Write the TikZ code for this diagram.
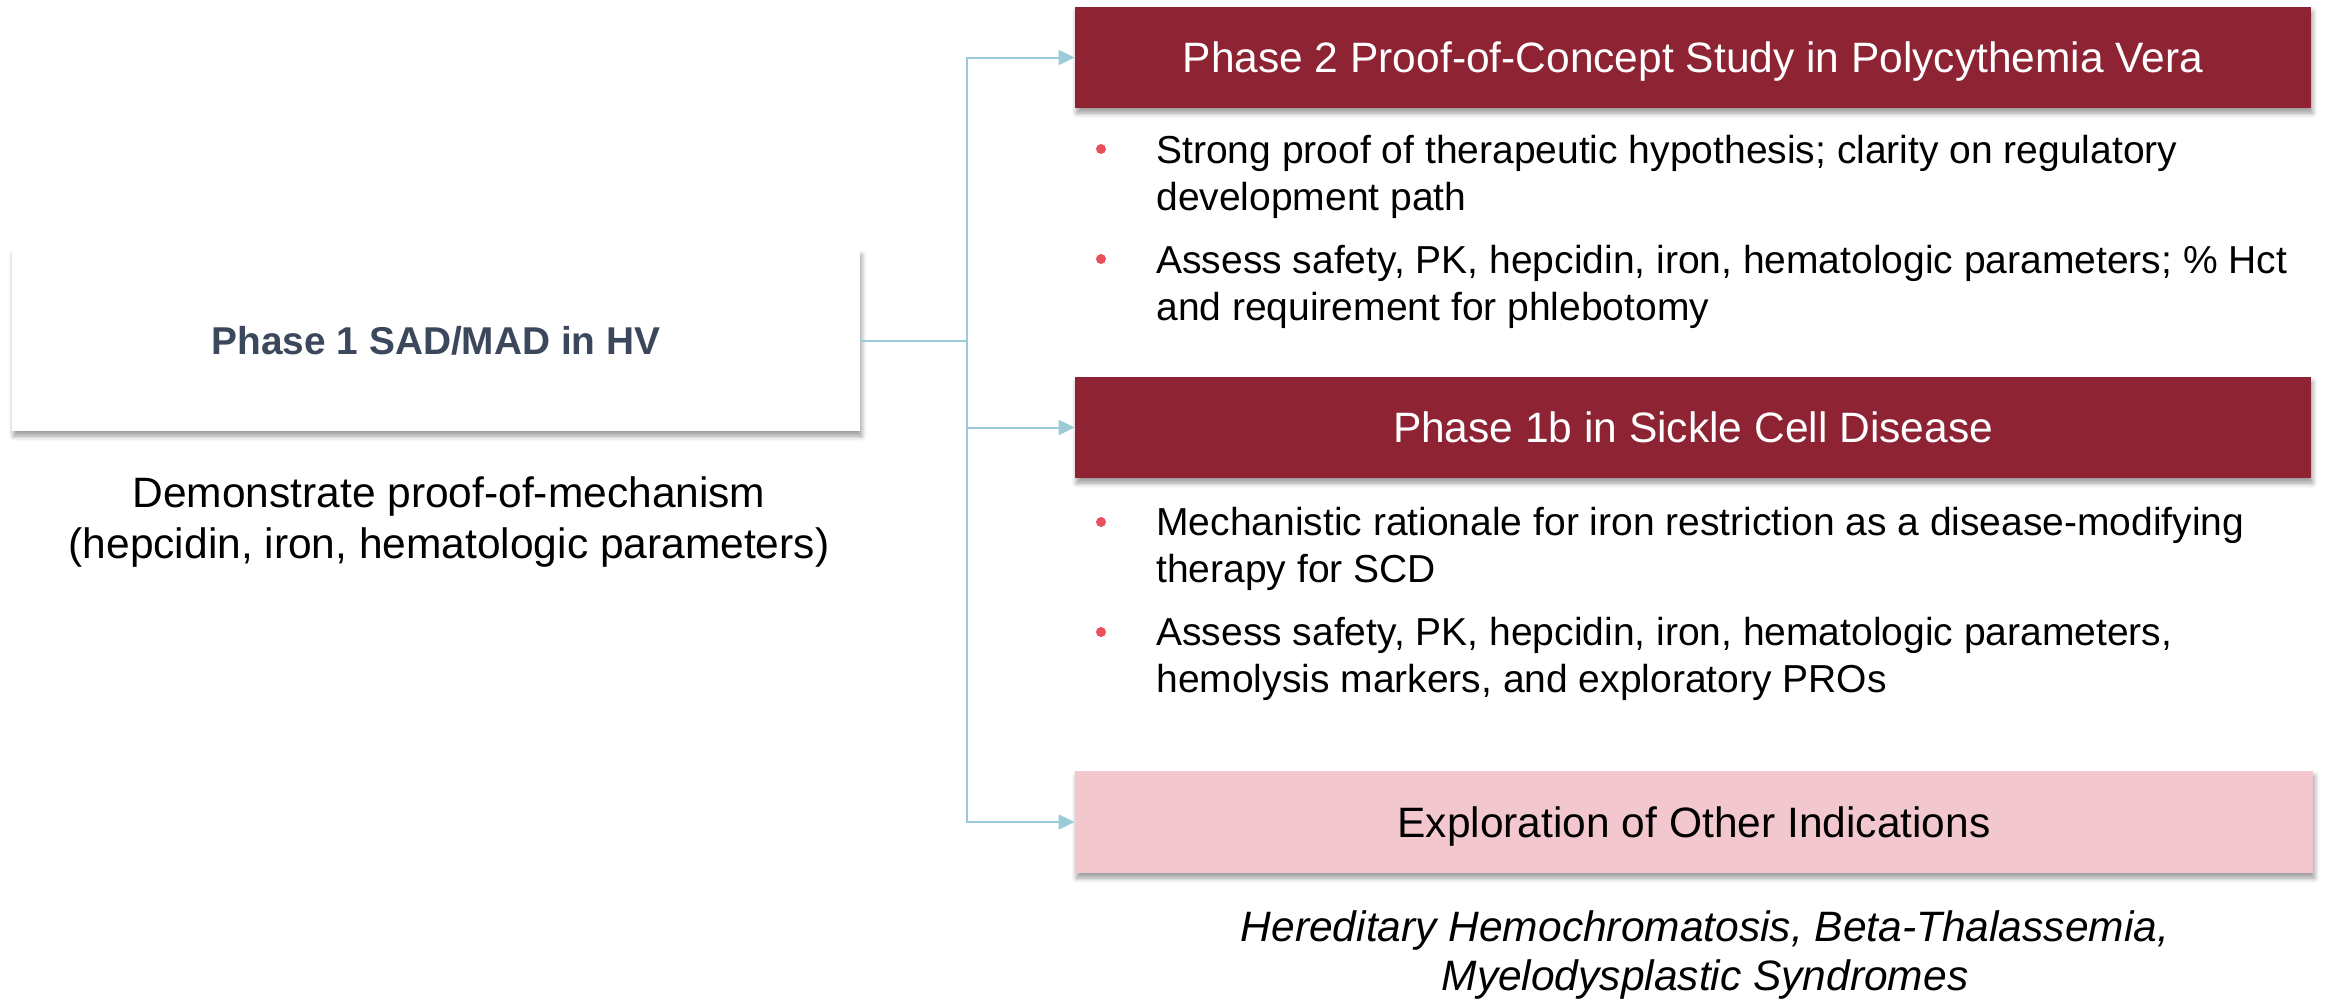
\documentclass[tikz,border=0pt]{standalone}
\usepackage{fontspec}
\setmainfont{Liberation Sans}
\usetikzlibrary{arrows.meta,shadows.blur}
\definecolor{wine}{HTML}{8E2334}
\definecolor{blush}{HTML}{F2C8CE}
\definecolor{linkblue}{HTML}{9CCBD8}
\definecolor{dotred}{HTML}{E8505B}
\definecolor{slate}{HTML}{3B475B}
\begin{document}
\begin{tikzpicture}[x=0.5pt,y=-0.5pt,
  shadowed/.style={blur shadow={shadow xshift=0.8pt,shadow yshift=-2.5pt,shadow blur radius=2.5pt,shadow opacity=40}},
  card/.style={rectangle,inner sep=0pt,shadowed,text height=15.2pt,text depth=0pt},
  bigfont/.style={font=\fontsize{21.25}{25}\selectfont},
  head/.style={card,fill=wine,text=white,minimum width=618pt,minimum height=50.5pt,bigfont},
  body/.style={anchor=base west,inner sep=0pt,align=left,font=\fontsize{19.5}{23.5}\selectfont},
  bdot/.style={circle,fill=dotred,inner sep=0pt,minimum size=5pt},
  conn/.style={draw=linkblue,line width=1pt},
  tip/.style={conn,-{Triangle[length=8pt,width=7.5pt]}}
]
\useasboundingbox (0,0) rectangle (2326,998);

% left box and caption
\node[card,fill=white,minimum width=424pt,minimum height=90.5pt,text=slate,text height=13.9pt,
      font=\bfseries\fontsize{19.4}{23.5}\selectfont] (p1) at (436,340.5) {Phase 1 SAD/MAD in HV};
\node[align=center,inner sep=0pt,bigfont] (demo) at (449,522)
  {Demonstrate proof-of-mechanism\\(hepcidin, iron, hematologic parameters)};

% right boxes
\node[head] (pv) at (1693,57.5) {Phase 2 Proof-of-Concept Study in Polycythemia Vera};
\node[head] (scd) at (1693,427.5) {Phase 1b in Sickle Cell Disease};
\node[card,fill=blush,text=black,minimum width=619pt,minimum height=51pt,bigfont] (oth) at (1694,822) {Exploration of Other Indications};

% bullets PV
\node[bdot] (d1) at (1101,149) {};
\node[body] (b1) at (1156,210) {Strong proof of therapeutic hypothesis; clarity on regulatory\\development path};
\node[bdot] (d2) at (1101,259) {};
\node[body] (b2) at (1156,320) {Assess safety, PK, hepcidin, iron, hematologic parameters; \% Hct\\and requirement for phlebotomy};

% bullets SCD
\node[bdot] (d3) at (1101,522) {};
\node[body] (b3) at (1156,582) {Mechanistic rationale for iron restriction as a disease-modifying\\therapy for SCD};
\node[bdot] (d4) at (1101,632) {};
\node[body] (b4) at (1156,692) {Assess safety, PK, hepcidin, iron, hematologic parameters,\\hemolysis markers, and exploratory PROs};

% other indications caption
\node[anchor=base,align=center,inner sep=0pt,font=\itshape\fontsize{21.25}{24.5}\selectfont] (ind) at (1705,990)
  {Hereditary Hemochromatosis, Beta-Thalassemia,\\Myelodysplastic Syndromes};

% connectors
\coordinate (fork) at (967,340.5);
\draw[conn] (p1.east) -- (fork);
\draw[tip] (fork) |- (pv.west);
\draw[tip] (fork) |- (scd.west);
\draw[tip] (fork) |- (oth.west);
\end{tikzpicture}
\end{document}
